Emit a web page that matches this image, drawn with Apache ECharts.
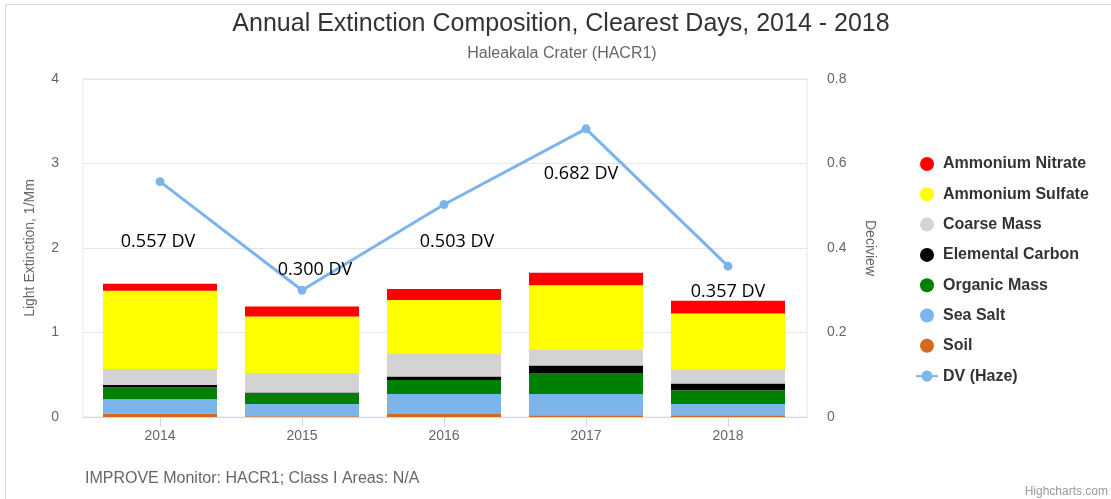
<!DOCTYPE html>
<html><head><meta charset="utf-8">
<script src="https://cdn.jsdelivr.net/npm/echarts@6/dist/echarts.min.js"></script>
<style>html,body{margin:0;padding:0;background:#fff}#c{width:1111px;height:499px}</style>
</head><body><div id="c"></div>
<script>
// ---- data ----
const categories = ['2014', '2015', '2016', '2017', '2018'];
const soil = [0.040, 0.010, 0.035, 0.020, 0.020];
const seaSalt = [0.170, 0.145, 0.238, 0.253, 0.134];
const organicMass = [0.140, 0.122, 0.166, 0.249, 0.163];
const elementalCarbon = [0.028, 0.014, 0.039, 0.087, 0.078];
const coarseMass = [0.190, 0.229, 0.269, 0.194, 0.171];
const ammoniumSulfate = [0.926, 0.668, 0.637, 0.755, 0.659];
const ammoniumNitrate = [0.083, 0.119, 0.131, 0.150, 0.151];
const dvHaze = [0.557, 0.300, 0.503, 0.682, 0.357];
const dvLabels = ['0.557 DV', '0.300 DV', '0.503 DV', '0.682 DV', '0.357 DV'];

// ---- styling ----
const FONT = 'Liberation Sans, Arial, sans-serif';
const labelOffsets = [[-2, 60], [13, -20], [13, 37], [-5, 45], [0, 26]];
const barSeriesDefs = [
  ['Soil', soil, '#d2691e'],
  ['Sea Salt', seaSalt, '#7cb5ec'],
  ['Organic Mass', organicMass, '#008000'],
  ['Elemental Carbon', elementalCarbon, '#000000'],
  ['Coarse Mass', coarseMass, '#d3d3d3'],
  ['Ammonium Sulfate', ammoniumSulfate, '#ffff00'],
  ['Ammonium Nitrate', ammoniumNitrate, '#ff0000']
];

const chart = echarts.init(document.getElementById('c'), null, {renderer: 'canvas'});

const series = barSeriesDefs.map(([name, data, color]) => ({
  name, type: 'bar', data, stack: 'ext',
  xAxisIndex: 1, yAxisIndex: 2,
  barWidth: 114,
  itemStyle: {color, borderWidth: 0},
  emphasis: {disabled: true}
}));
series.push({
  name: 'DV (Haze)', type: 'line',
  xAxisIndex: 1, yAxisIndex: 3,
  data: dvHaze.map((v, i) => ({
    value: v,
    label: {formatter: dvLabels[i], offset: labelOffsets[i]}
  })),
  color: '#7cb5ec',
  lineStyle: {width: 3, color: '#7cb5ec'},
  symbol: 'circle', symbolSize: 9,
  itemStyle: {color: '#7cb5ec'},
  label: {show: true, position: 'inside', color: '#000', fontSize: 18, fontFamily: 'Open Sans, sans-serif'},
  z: 5
});

const legendOrder = ['Ammonium Nitrate', 'Ammonium Sulfate', 'Coarse Mass', 'Elemental Carbon', 'Organic Mass', 'Sea Salt', 'Soil'];

chart.setOption({
  animation: false,
  textStyle: {fontFamily: FONT},
  title: [
    {text: 'Annual Extinction Composition, Clearest Days, 2014 - 2018', left: 561, top: 12, padding: 0, textAlign: 'center',
     textStyle: {fontSize: 25, fontWeight: 'normal', color: '#333333', fontFamily: FONT}},
    {text: 'Haleakala Crater (HACR1)', left: 562, top: 46, padding: 0, textAlign: 'center',
     textStyle: {fontSize: 16, fontWeight: 'normal', color: '#666666', fontFamily: FONT}}
  ],
  legend: {
    orient: 'vertical', left: 915, top: 156, padding: 0, itemWidth: 22, itemHeight: 14, itemGap: 14.3,
    textStyle: {fontSize: 16, fontWeight: 'bold', color: '#333333', fontFamily: FONT},
    data: legendOrder.map(n => ({name: n, icon: 'circle'})).concat([{name: 'DV (Haze)'}])
  },
  grid: [
    {left: 83, right: 304, top: 79, bottom: 82, show: true, borderColor: '#e6e6e6', borderWidth: 1},
    {left: 89, right: 312, top: 79, bottom: 82}
  ],
  xAxis: [
    {gridIndex: 0, type: 'value', min: 0, max: 1, axisLine: {show: true, lineStyle: {color: '#ccd6eb'}},
     axisTick: {show: false}, axisLabel: {show: false}, splitLine: {show: false}},
    {gridIndex: 1, type: 'category', data: categories, boundaryGap: true,
     axisLine: {show: false},
     axisTick: {show: true, alignWithLabel: true, length: 10, lineStyle: {color: '#ccd6eb'}},
     axisLabel: {color: '#666666', fontSize: 14, margin: 12, fontFamily: FONT}}
  ],
  yAxis: [
    {gridIndex: 0, type: 'value', position: 'left', min: 0, max: 4, interval: 1,
     axisLine: {show: false}, axisTick: {show: false},
     axisLabel: {color: '#666666', fontSize: 14, margin: 24, fontFamily: FONT},
     splitLine: {lineStyle: {color: '#e6e6e6'}},
     name: 'Light Extinction, 1/Mm', nameLocation: 'middle', nameGap: 46,
     nameTextStyle: {color: '#666666', fontSize: 14, fontFamily: FONT}},
    {gridIndex: 0, type: 'value', position: 'right', min: 0, max: 0.8, interval: 0.2,
     axisLine: {show: false}, axisTick: {show: false},
     axisLabel: {color: '#666666', fontSize: 14, margin: 20, fontFamily: FONT},
     splitLine: {show: false},
     name: 'Deciview', nameLocation: 'middle', nameGap: 56, nameRotate: -90,
     nameTextStyle: {color: '#666666', fontSize: 14, fontFamily: FONT}},
    {gridIndex: 1, type: 'value', min: 0, max: 4, show: false},
    {gridIndex: 1, type: 'value', min: 0, max: 0.8, show: false, position: 'right'}
  ],
  series,
  graphic: [
    {type: 'line', shape: {x1: 5.5, y1: 4.5, x2: 1111, y2: 4.5}, style: {stroke: '#d8d8d8', lineWidth: 1}, silent: true},
    {type: 'line', shape: {x1: 5.5, y1: 4.5, x2: 5.5, y2: 499}, style: {stroke: '#d8d8d8', lineWidth: 1}, silent: true},
    {type: 'text', left: 85, top: 471, style: {text: 'IMPROVE Monitor: HACR1; Class I Areas: N/A', font: '16px ' + FONT, fill: '#666666'}},
    {type: 'text', right: 3, top: 486, style: {text: 'Highcharts.com', font: '12px ' + FONT, fill: '#999999'}}
  ]
});
</script>
</body></html>
